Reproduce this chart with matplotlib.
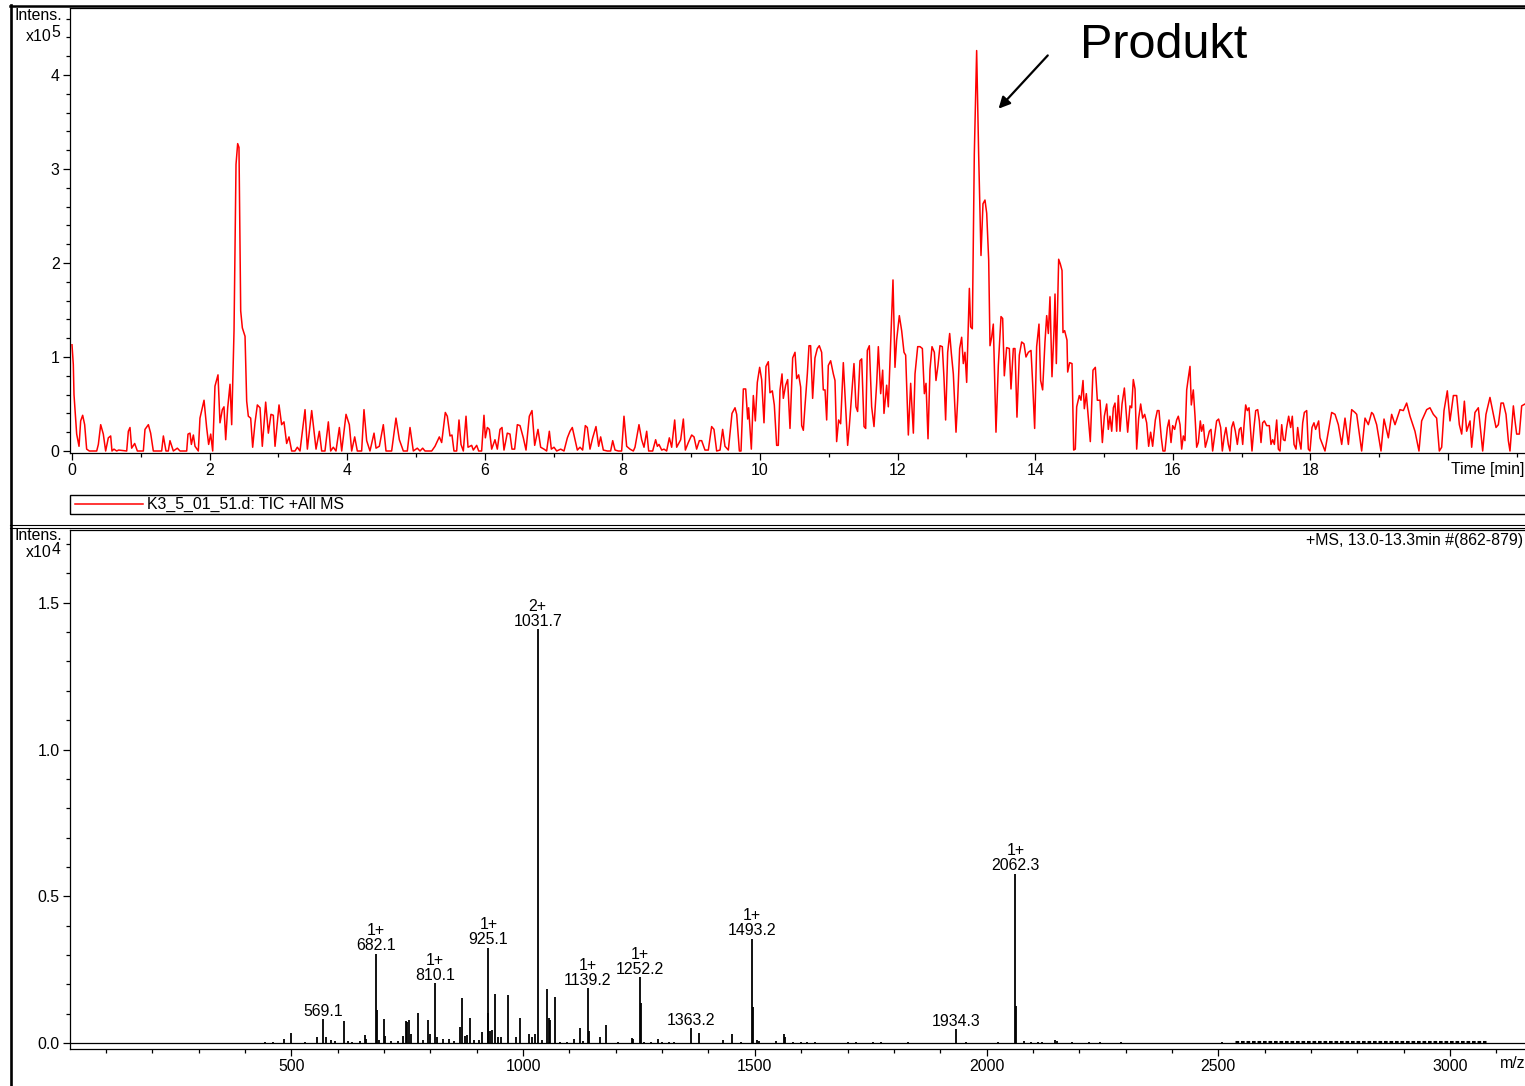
import matplotlib
matplotlib.use('Agg')
import matplotlib.pyplot as plt
from matplotlib.ticker import FixedLocator, MultipleLocator, FuncFormatter
from matplotlib.lines import Line2D
from matplotlib.patches import Rectangle
import matplotlib.transforms as mtransforms

plt.rcParams['font.family'] = ['Liberation Sans', 'DejaVu Sans']

# TIC chromatogram (time in min, intensity in x10^5)
tic_time = [
    0.000, 0.019, 0.029, 0.068, 0.102, 0.126, 0.155, 0.184, 0.213, 0.252,
    0.359, 0.383, 0.417, 0.455, 0.489, 0.528, 0.562, 0.581, 0.610, 0.649,
    0.678, 0.795, 0.819, 0.843, 0.867, 0.911, 0.950, 1.037, 1.061, 1.110,
    1.143, 1.182, 1.303, 1.328, 1.366, 1.400, 1.424, 1.473, 1.531, 1.570,
    1.667, 1.686, 1.715, 1.735, 1.764, 1.788, 1.836, 1.860, 1.919, 1.957,
    1.986, 2.016, 2.045, 2.078, 2.122, 2.151, 2.185, 2.209, 2.234, 2.263,
    2.297, 2.321, 2.355, 2.384, 2.408, 2.427, 2.452, 2.476, 2.515, 2.539,
    2.563, 2.597, 2.626, 2.660, 2.694, 2.733, 2.766, 2.815, 2.854, 2.892,
    2.926, 2.951, 3.009, 3.047, 3.081, 3.120, 3.154, 3.193, 3.241, 3.275,
    3.314, 3.387, 3.421, 3.484, 3.517, 3.547, 3.595, 3.629, 3.677, 3.726,
    3.760, 3.798, 3.837, 3.886, 3.920, 3.983, 4.031, 4.065, 4.109, 4.147,
    4.210, 4.244, 4.283, 4.331, 4.390, 4.419, 4.467, 4.525, 4.564, 4.646,
    4.709, 4.758, 4.816, 4.874, 4.913, 4.961, 5.019, 5.058, 5.097, 5.131,
    5.228, 5.276, 5.339, 5.373, 5.426, 5.455, 5.494, 5.523, 5.552, 5.591,
    5.625, 5.654, 5.688, 5.727, 5.756, 5.809, 5.833, 5.882, 5.911, 5.954,
    5.988, 6.008, 6.037, 6.066, 6.100, 6.148, 6.182, 6.221, 6.250, 6.279,
    6.327, 6.366, 6.395, 6.434, 6.473, 6.512, 6.560, 6.599, 6.647, 6.686,
    6.725, 6.773, 6.812, 6.860, 6.899, 6.938, 6.967, 7.006, 7.045, 7.103,
    7.151, 7.200, 7.238, 7.272, 7.311, 7.345, 7.384, 7.422, 7.461, 7.490,
    7.529, 7.568, 7.616, 7.655, 7.684, 7.723, 7.781, 7.829, 7.859, 7.893,
    7.941, 7.989, 8.023, 8.062, 8.110, 8.159, 8.183, 8.241, 8.280, 8.314,
    8.353, 8.382, 8.440, 8.483, 8.508, 8.532, 8.571, 8.605, 8.643, 8.682,
    8.716, 8.760, 8.789, 8.847, 8.886, 8.915, 8.958, 9.007, 9.041, 9.079,
    9.118, 9.152, 9.200, 9.249, 9.297, 9.331, 9.370, 9.419, 9.457, 9.491,
    9.540, 9.593, 9.637, 9.661, 9.700, 9.724, 9.758, 9.792, 9.821, 9.835,
    9.874, 9.903, 9.932, 9.961, 9.995, 10.024, 10.058, 10.087, 10.121, 10.145,
    10.179, 10.208, 10.242, 10.266, 10.291, 10.320, 10.339, 10.373, 10.402, 10.436,
    10.475, 10.509, 10.533, 10.562, 10.591, 10.606, 10.630, 10.654, 10.688, 10.712,
    10.736, 10.765, 10.799, 10.833, 10.862, 10.896, 10.920, 10.945, 10.969, 10.993,
    11.027, 11.066, 11.090, 11.114, 11.143, 11.172, 11.211, 11.245, 11.274, 11.298,
    11.332, 11.366, 11.395, 11.419, 11.453, 11.478, 11.512, 11.536, 11.560, 11.589,
    11.623, 11.657, 11.696, 11.720, 11.754, 11.783, 11.802, 11.841, 11.865, 11.899,
    11.933, 11.962, 11.986, 12.025, 12.059, 12.093, 12.117, 12.156, 12.190, 12.229,
    12.253, 12.292, 12.326, 12.360, 12.389, 12.413, 12.442, 12.471, 12.500, 12.534,
    12.558, 12.587, 12.616, 12.650, 12.674, 12.698, 12.728, 12.757, 12.781, 12.810,
    12.849, 12.873, 12.902, 12.931, 12.955, 12.979, 13.004, 13.043, 13.062, 13.086,
    13.115, 13.149, 13.178, 13.212, 13.241, 13.270, 13.295, 13.324, 13.343, 13.367,
    13.391, 13.430, 13.464, 13.503, 13.527, 13.551, 13.585, 13.624, 13.648, 13.682,
    13.706, 13.735, 13.769, 13.803, 13.837, 13.866, 13.900, 13.939, 13.963, 13.992,
    14.021, 14.055, 14.079, 14.108, 14.142, 14.167, 14.191, 14.215, 14.244, 14.273,
    14.288, 14.307, 14.341, 14.365, 14.390, 14.404, 14.428, 14.462, 14.472, 14.501,
    14.535, 14.559, 14.583, 14.603, 14.641, 14.665, 14.695, 14.714, 14.743, 14.767,
    14.801, 14.840, 14.874, 14.903, 14.942, 14.976, 15.005, 15.039, 15.063, 15.087,
    15.112, 15.136, 15.160, 15.184, 15.208, 15.233, 15.262, 15.296, 15.320, 15.344,
    15.378, 15.402, 15.426, 15.451, 15.475, 15.504, 15.533, 15.562, 15.591, 15.620,
    15.649, 15.678, 15.707, 15.746, 15.775, 15.799, 15.833, 15.857, 15.886, 15.921,
    15.945, 15.974, 15.998, 16.027, 16.056, 16.080, 16.105, 16.129, 16.153, 16.177,
    16.202, 16.226, 16.250, 16.269, 16.298, 16.323, 16.347, 16.371, 16.400, 16.419,
    16.444, 16.473, 16.502, 16.531, 16.555, 16.579, 16.608, 16.637, 16.666, 16.696,
    16.720, 16.749, 16.773, 16.807, 16.831, 16.855, 16.880, 16.909, 16.938, 16.967,
    16.991, 17.016, 17.035, 17.059, 17.083, 17.108, 17.132, 17.151, 17.180, 17.205,
    17.234, 17.258, 17.282, 17.306, 17.331, 17.364, 17.403, 17.427, 17.452, 17.476,
    17.510, 17.534, 17.558, 17.583, 17.607, 17.631, 17.655, 17.684, 17.713, 17.737,
    17.762, 17.791, 17.815, 17.839, 17.863, 17.888, 17.912, 17.946, 17.970, 17.994,
    18.023, 18.052, 18.076, 18.101, 18.120, 18.139, 18.212, 18.309, 18.358, 18.406,
    18.455, 18.503, 18.552, 18.600, 18.648, 18.673, 18.745, 18.794, 18.842, 18.890,
    18.915, 18.963, 19.026, 19.070, 19.133, 19.181, 19.230, 19.302, 19.351, 19.399,
    19.448, 19.520, 19.578, 19.617, 19.690, 19.738, 19.787, 19.835, 19.874, 19.908,
    19.942, 19.990, 20.029, 20.078, 20.126, 20.165, 20.199, 20.238, 20.271, 20.320,
    20.344, 20.392, 20.441, 20.504, 20.552, 20.610, 20.659, 20.698, 20.732, 20.771,
    20.804, 20.843, 20.877, 20.901, 20.950, 20.974, 20.998, 21.037, 21.071, 21.119,
]
tic_intens = [
    1.13, 0.92, 0.60, 0.18, 0.05, 0.32, 0.38, 0.28, 0.02, 0.00,
    0.00, 0.07, 0.28, 0.18, 0.00, 0.14, 0.16, 0.00, 0.02, 0.00,
    0.01, 0.00, 0.21, 0.25, 0.03, 0.08, 0.00, 0.00, 0.23, 0.28,
    0.19, 0.00, 0.00, 0.16, 0.00, 0.00, 0.11, 0.00, 0.03, 0.00,
    0.00, 0.18, 0.19, 0.07, 0.17, 0.05, 0.00, 0.35, 0.54, 0.25,
    0.07, 0.18, 0.00, 0.69, 0.81, 0.30, 0.44, 0.47, 0.12, 0.46,
    0.71, 0.28, 1.28, 3.05, 3.27, 3.23, 1.49, 1.31, 1.22, 0.53,
    0.37, 0.35, 0.04, 0.30, 0.49, 0.46, 0.05, 0.52, 0.19, 0.39,
    0.38, 0.05, 0.49, 0.28, 0.31, 0.08, 0.15, 0.00, 0.00, 0.04,
    0.00, 0.44, 0.02, 0.43, 0.21, 0.02, 0.21, 0.00, 0.00, 0.31,
    0.00, 0.04, 0.00, 0.25, 0.00, 0.39, 0.28, 0.00, 0.15, 0.00,
    0.00, 0.44, 0.11, 0.00, 0.19, 0.03, 0.05, 0.28, 0.00, 0.00,
    0.35, 0.12, 0.00, 0.00, 0.25, 0.00, 0.03, 0.00, 0.03, 0.00,
    0.00, 0.05, 0.15, 0.09, 0.41, 0.37, 0.16, 0.17, 0.00, 0.00,
    0.33, 0.07, 0.00, 0.37, 0.04, 0.06, 0.01, 0.06, 0.00, 0.00,
    0.38, 0.14, 0.25, 0.23, 0.02, 0.12, 0.02, 0.23, 0.25, 0.01,
    0.19, 0.18, 0.02, 0.02, 0.28, 0.27, 0.14, 0.01, 0.37, 0.43,
    0.06, 0.23, 0.04, 0.02, 0.00, 0.21, 0.02, 0.04, 0.00, 0.02,
    0.00, 0.14, 0.21, 0.25, 0.12, 0.01, 0.04, 0.01, 0.27, 0.25,
    0.02, 0.14, 0.26, 0.05, 0.15, 0.01, 0.00, 0.00, 0.11, 0.01,
    0.00, 0.00, 0.37, 0.05, 0.02, 0.00, 0.04, 0.28, 0.12, 0.04,
    0.21, 0.00, 0.00, 0.12, 0.05, 0.07, 0.01, 0.02, 0.00, 0.14,
    0.04, 0.33, 0.04, 0.12, 0.34, 0.01, 0.09, 0.17, 0.15, 0.02,
    0.11, 0.11, 0.01, 0.01, 0.26, 0.23, 0.00, 0.01, 0.23, 0.05,
    0.01, 0.40, 0.46, 0.39, 0.00, 0.00, 0.66, 0.66, 0.34, 0.46,
    0.02, 0.59, 0.32, 0.73, 0.89, 0.76, 0.30, 0.90, 0.95, 0.62,
    0.64, 0.49, 0.06, 0.06, 0.65, 0.82, 0.56, 0.70, 0.76, 0.24,
    0.99, 1.05, 0.77, 0.81, 0.68, 0.27, 0.22, 0.48, 0.82, 1.12,
    1.12, 0.56, 0.99, 1.09, 1.12, 1.05, 0.65, 0.65, 0.33, 0.91,
    0.96, 0.82, 0.75, 0.10, 0.33, 0.29, 0.94, 0.47, 0.06, 0.26,
    0.59, 0.93, 0.47, 0.42, 0.96, 0.98, 0.26, 0.24, 1.07, 1.12,
    0.47, 0.26, 0.72, 1.11, 0.61, 0.86, 0.40, 0.70, 0.47, 1.16,
    1.82, 0.89, 1.18, 1.44, 1.28, 1.05, 1.02, 0.17, 0.72, 0.19,
    0.82, 1.11, 1.11, 1.09, 0.61, 0.72, 0.13, 0.87, 1.11, 1.05,
    0.75, 0.91, 1.12, 1.11, 0.78, 0.33, 1.05, 1.25, 1.04, 0.82,
    0.20, 0.54, 1.09, 1.21, 0.93, 1.05, 0.73, 1.73, 1.32, 1.30,
    3.16, 4.26, 3.16, 2.08, 2.63, 2.67, 2.53, 2.03, 1.12, 1.21,
    1.35, 0.20, 0.91, 1.43, 1.41, 0.80, 1.10, 1.09, 0.66, 1.09,
    1.09, 0.36, 1.02, 1.16, 1.14, 1.00, 1.05, 1.07, 0.72, 0.24,
    1.11, 1.35, 0.75, 0.65, 1.16, 1.44, 1.25, 1.64, 0.79, 1.28,
    1.67, 0.93, 2.04, 1.99, 1.92, 1.26, 1.28, 1.18, 0.84, 0.94,
    0.93, 0.01, 0.02, 0.47, 0.59, 0.54, 0.75, 0.45, 0.61, 0.40,
    0.10, 0.86, 0.89, 0.54, 0.54, 0.09, 0.37, 0.50, 0.23, 0.37,
    0.21, 0.46, 0.51, 0.21, 0.59, 0.21, 0.50, 0.67, 0.43, 0.20,
    0.48, 0.46, 0.76, 0.66, 0.02, 0.35, 0.50, 0.35, 0.39, 0.30,
    0.05, 0.20, 0.05, 0.33, 0.43, 0.43, 0.14, 0.00, 0.00, 0.25,
    0.33, 0.09, 0.27, 0.23, 0.33, 0.37, 0.28, 0.02, 0.16, 0.11,
    0.65, 0.78, 0.90, 0.49, 0.65, 0.37, 0.04, 0.09, 0.32, 0.21,
    0.28, 0.04, 0.12, 0.21, 0.23, 0.00, 0.16, 0.32, 0.34, 0.25,
    0.00, 0.16, 0.25, 0.07, 0.00, 0.25, 0.31, 0.21, 0.07, 0.23,
    0.25, 0.07, 0.27, 0.49, 0.43, 0.46, 0.21, 0.00, 0.25, 0.43,
    0.44, 0.32, 0.09, 0.30, 0.32, 0.27, 0.27, 0.07, 0.12, 0.07,
    0.33, 0.02, 0.00, 0.28, 0.12, 0.11, 0.25, 0.37, 0.25, 0.37,
    0.07, 0.02, 0.25, 0.11, 0.02, 0.30, 0.41, 0.43, 0.02, 0.00,
    0.25, 0.30, 0.23, 0.28, 0.32, 0.14, 0.00, 0.41, 0.39, 0.28,
    0.07, 0.35, 0.07, 0.44, 0.41, 0.39, 0.00, 0.35, 0.28, 0.41,
    0.39, 0.28, 0.00, 0.34, 0.14, 0.39, 0.28, 0.44, 0.43, 0.51,
    0.37, 0.21, 0.00, 0.32, 0.44, 0.46, 0.39, 0.35, 0.00, 0.04,
    0.43, 0.64, 0.32, 0.59, 0.59, 0.28, 0.18, 0.53, 0.21, 0.32,
    0.04, 0.41, 0.46, 0.00, 0.39, 0.57, 0.39, 0.25, 0.28, 0.51,
    0.51, 0.39, 0.11, 0.00, 0.48, 0.32, 0.18, 0.18, 0.48, 0.50,
]
assert len(tic_time) == len(tic_intens)

# mass spectrum (m/z, intensity in x10^4)
ms_mz = [
    443, 461, 484, 500, 529, 555, 569.1, 574, 585, 594,
    613, 622, 630, 648, 658, 662, 682.1, 684.1, 690, 699,
    703, 715, 730, 741, 747, 750, 754, 758, 773, 785,
    796, 800, 810.1, 815, 828, 841, 852, 865, 868, 874,
    879, 885, 895, 905, 911, 924, 925.1, 929, 933, 940,
    946, 952, 968, 985, 994, 1012, 1020, 1025, 1031.7, 1040,
    1051.6, 1055, 1059, 1068, 1080, 1095, 1110, 1122, 1130, 1139.2,
    1142, 1165, 1180, 1205, 1235, 1238, 1252.2, 1254.2, 1262, 1275,
    1292, 1300, 1315, 1325, 1363.2, 1380, 1432, 1450, 1470, 1493.2,
    1495.2, 1505, 1510, 1545, 1563, 1566, 1583, 1600, 1612, 1630,
    1700, 1718, 1755, 1772, 1830, 1934.3, 1955, 2025, 2062.3, 2064.3,
    2080, 2095, 2110, 2120, 2148, 2152, 2185, 2220, 2245, 2290,
    2508,
]
ms_intens = [
    0.005, 0.005, 0.012, 0.035, 0.005, 0.020, 0.081, 0.020, 0.010, 0.008,
    0.076, 0.006, 0.005, 0.007, 0.027, 0.015, 0.304, 0.112, 0.010, 0.082,
    0.025, 0.008, 0.008, 0.025, 0.075, 0.070, 0.080, 0.030, 0.101, 0.010,
    0.077, 0.030, 0.204, 0.020, 0.015, 0.013, 0.008, 0.054, 0.152, 0.025,
    0.028, 0.085, 0.010, 0.010, 0.037, 0.102, 0.325, 0.040, 0.045, 0.167,
    0.020, 0.020, 0.162, 0.020, 0.086, 0.030, 0.020, 0.030, 1.410, 0.010,
    0.183, 0.085, 0.080, 0.157, 0.005, 0.005, 0.015, 0.051, 0.008, 0.187,
    0.040, 0.020, 0.061, 0.005, 0.016, 0.015, 0.224, 0.137, 0.005, 0.005,
    0.015, 0.004, 0.005, 0.004, 0.051, 0.035, 0.010, 0.030, 0.003, 0.355,
    0.123, 0.010, 0.008, 0.008, 0.031, 0.020, 0.003, 0.003, 0.003, 0.005,
    0.004, 0.004, 0.004, 0.004, 0.003, 0.047, 0.003, 0.003, 0.576, 0.126,
    0.007, 0.004, 0.004, 0.004, 0.010, 0.006, 0.005, 0.004, 0.003, 0.003,
    0.004,
]
assert len(ms_mz) == len(ms_intens)

# dense low-level noise at high m/z
noise_band = [2536, 3078]
noise_level = 0.004

label_mz = [569.1, 682.1, 810.1, 925.1, 1031.7, 1139.2, 1252.2, 1363.2, 1493.2, 1934.3, 2062.3]
label_charge = ['', '1+', '1+', '1+', '2+', '1+', '1+', '', '1+', '', '1+']

W, H = 1525, 1086
fig = plt.figure(figsize=(W / 100, H / 100), dpi=100)


def rect(x0, y0, x1, y1):
    return [x0 / W, 1 - y1 / H, (x1 - x0) / W, (y1 - y0) / H]


def fx(px):
    return px / W


def fy(py):
    return 1 - py / H


fs = 11.4

# ---- chromatogram
ax1 = fig.add_axes(rect(70, 8, 1532, 453))
ax1.plot(tic_time, tic_intens, color='#ff0000', lw=1.1)
ax1.set_xlim(-2 / 68.8, 1460 / 68.8)
ax1.set_ylim(-2 / 94, 443 / 94)
ax1.xaxis.set_major_locator(FixedLocator(range(0, 22, 2)))
ax1.xaxis.set_minor_locator(MultipleLocator(1))
ax1.xaxis.set_major_formatter(FuncFormatter(lambda v, p: '' if v >= 20 else '%d' % v))
ax1.yaxis.set_major_locator(FixedLocator([0, 1, 2, 3, 4]))
ax1.yaxis.set_minor_locator(FixedLocator([i * 0.2 for i in range(24)]))
ax1.yaxis.set_major_formatter(FuncFormatter(lambda v, p: '%d' % v))

# arrow pointing to product peak
ax1.annotate('', xy=(13.44, 3.62), xytext=(14.21, 4.23),
             arrowprops=dict(arrowstyle='-|>', color='black', lw=1.6, mutation_scale=17))
fig.text(fx(1080), fy(58), 'Produkt', fontsize=35, va='baseline', ha='left')

# ---- spectrum
ax2 = fig.add_axes(rect(70, 530, 1532, 1049))
ax2.vlines(ms_mz, 0, ms_intens, color='black', lw=1.3)
ax2.hlines(noise_level / 2, noise_band[0], noise_band[1], color='black', lw=2.2,
           linestyles=(0, (1.2, 0.6)))
ax2.axhline(0, color='black', lw=0.9)
ax2.set_xlim(500 - 221.3 / 0.4635, 500 + 1240.7 / 0.4635)
ax2.set_ylim(-6 / 293.5, 513 / 293.5)
ax2.xaxis.set_major_locator(FixedLocator([500, 1000, 1500, 2000, 2500, 3000]))
ax2.xaxis.set_minor_locator(MultipleLocator(100))
ax2.yaxis.set_major_locator(FixedLocator([0, 0.5, 1.0, 1.5]))
ax2.yaxis.set_minor_locator(FixedLocator([i * 0.1 for i in range(18)]))
ax2.yaxis.set_major_formatter(FuncFormatter(lambda v, p: '%.1f' % v))

for mz, ch in zip(label_mz, label_charge):
    h = ms_intens[ms_mz.index(mz)]
    txt = ('%s\n%.1f' % (ch, mz)) if ch else '%.1f' % mz
    ax2.annotate(txt, xy=(mz, h), xytext=(0, 2.5), textcoords='offset points',
                 ha='center', va='baseline', fontsize=fs, linespacing=1.0)

for ax in (ax1, ax2):
    for s in ('top', 'left', 'bottom'):
        ax.spines[s].set_linewidth(0.9)
    ax.spines['right'].set_visible(False)
    ax.tick_params(which='both', direction='out', color='black', width=0.9,
                   labelsize=fs, pad=2.5)
    ax.tick_params(which='major', length=5)
    ax.tick_params(which='minor', length=3.2)
    ax.set_facecolor('white')

# axis captions like the instrument software: "Intens." and "x10" with a raised exponent
for ax, y_int, y_exp, expo in ((ax1, 4.63, 4.41, '5'), (ax2, 1.73, 1.67, '4')):
    bt = mtransforms.blended_transform_factory(ax.transAxes, ax.transData)
    ax.text(-0.0055, y_int, 'Intens.', transform=bt, ha='right', va='center', fontsize=fs)
    ax.text(-0.0125, y_exp, 'x10', transform=bt, ha='right', va='center', fontsize=fs)
    ax.annotate(expo, xy=(-0.0125, y_exp), xycoords=bt, xytext=(-0.4, 2.5),
                textcoords='offset points', ha='left', va='center', fontsize=fs)

fig.text(fx(1451), fy(469), 'Time [min]', ha='left', va='center', fontsize=fs)
fig.text(fx(1500), fy(1064), 'm/z', ha='left', va='center', fontsize=fs)
fig.text(fx(1523), fy(540), '+MS, 13.0-13.3min #(862-879)', ha='right', va='center', fontsize=fs)

# legend strip under the chromatogram
fig.patches.append(Rectangle((fx(70), fy(514)), fx(1480), 19 / H, transform=fig.transFigure,
                             fill=False, edgecolor='black', lw=1.0))
fig.lines.append(Line2D([fx(75), fx(143)], [fy(504), fy(504)], transform=fig.transFigure,
                        color='#ff0000', lw=1.1))
fig.text(fx(147), fy(504), 'K3_5_01_51.d: TIC +All MS', ha='left', va='center', fontsize=fs)

# window frame and panel separator
fig.lines.append(Line2D([fx(10.5), fx(10.5)], [fy(5), 0], transform=fig.transFigure,
                        color='black', lw=1.9))
fig.lines.append(Line2D([fx(10), 1], [fy(5.5), fy(5.5)], transform=fig.transFigure,
                        color='black', lw=1.8))
for yy in (524.5, 527.5):
    fig.lines.append(Line2D([fx(10), 1], [fy(yy), fy(yy)], transform=fig.transFigure,
                            color='black', lw=0.8))

fig.savefig('out.png', dpi=100, facecolor='white')
